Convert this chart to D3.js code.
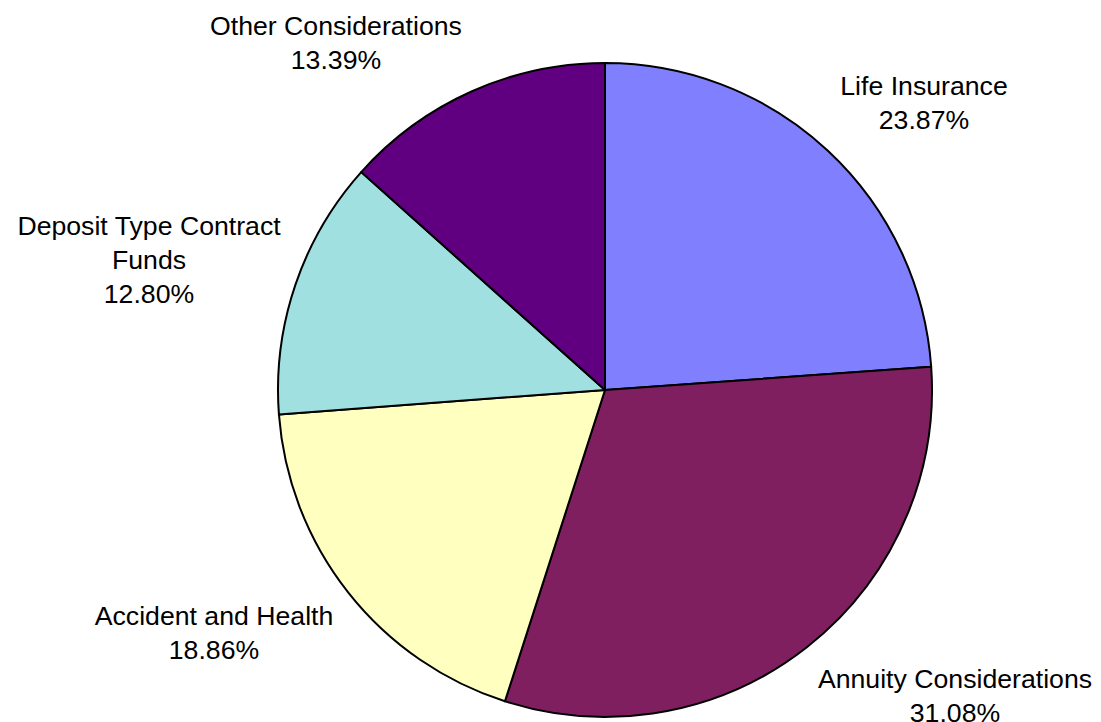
<!DOCTYPE html>
<html><head><meta charset="utf-8">
<script src="https://cdn.jsdelivr.net/npm/d3@7"></script>
<style>html,body{margin:0;padding:0;background:#fff;}svg{display:block;}</style>
</head><body>
<script>
const categories = ["Life Insurance", "Annuity Considerations", "Accident and Health", "Deposit Type Contract Funds", "Other Considerations"];
const values = [23.87, 31.08, 18.86, 12.80, 13.39];
const labelLines = [["Life Insurance"], ["Annuity Considerations"], ["Accident and Health"], ["Deposit Type Contract", "Funds"], ["Other Considerations"]];
const colors = ["#8080FF", "#7F1F5F", "#FFFFC0", "#A0E0E0", "#600080"];
// label anchor positions (layout only): x center, first baseline
const labelPos = [[924, 95], [955, 688], [214, 625], [149, 235], [336, 35]];

const W = 1101, H = 722, cx = 605, cy = 390, R = 327;
const svg = d3.select("body").append("svg").attr("width", W).attr("height", H);
const pie = d3.pie().sort(null).value(d => d)(values);
const arc = d3.arc().innerRadius(0).outerRadius(R);
const g = svg.append("g").attr("transform", `translate(${cx},${cy})`);
g.selectAll("path").data(pie).enter().append("path")
  .attr("d", arc).attr("fill", (d, i) => colors[i])
  .attr("stroke", "#000").attr("stroke-width", 2).attr("stroke-linejoin", "round");

const lh = 34;
categories.forEach((c, i) => {
  const lines = labelLines[i].concat([values[i].toFixed(2) + "%"]);
  const t = svg.append("text").attr("text-anchor", "middle")
    .attr("font-family", "Liberation Sans, Arial, sans-serif").attr("font-size", "26.67px").attr("fill", "#000");
  lines.forEach((l, j) => {
    t.append("tspan").attr("x", labelPos[i][0]).attr("y", labelPos[i][1] + j * lh).text(l);
  });
});
</script>
</body></html>
